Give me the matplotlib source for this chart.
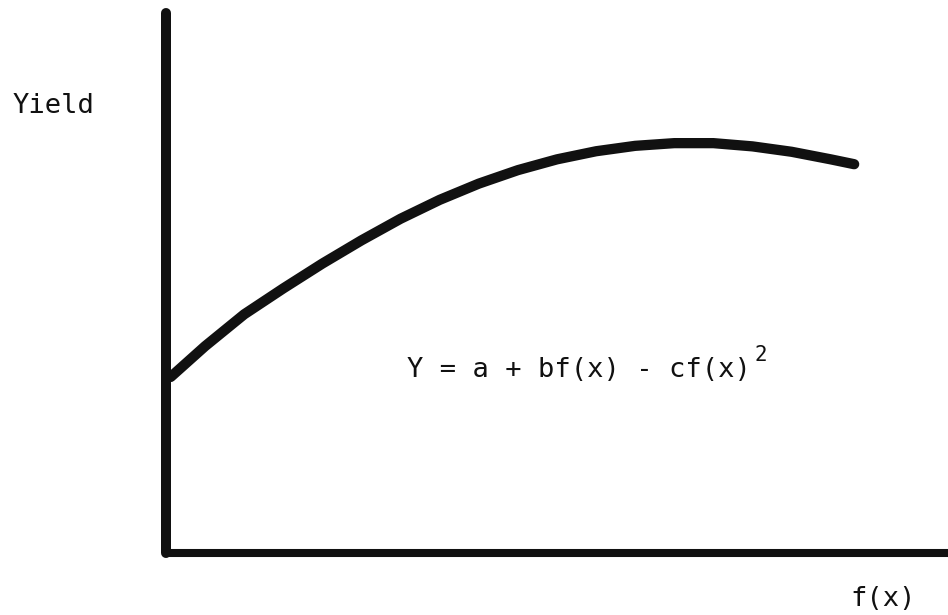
import matplotlib
matplotlib.use("Agg")
import matplotlib.pyplot as plt

# Conceptual yield curve (units: % of axis range)
fx_values = [0.6, 5, 10, 15, 20, 25, 30, 35, 40, 45, 50, 55, 60, 65, 70, 75, 80, 85, 88]
yield_values = [32.6, 38.3, 44.2, 49.0, 53.6, 57.9, 61.9, 65.4, 68.4, 70.9, 72.9, 74.4,
                75.4, 75.9, 75.9, 75.3, 74.3, 72.9, 72.0]

y_label = "Yield"
x_label = "f(x)"
equation = "Y = a + bf(x) - cf(x)"
exponent = "2"

W, H = 948, 615
fig = plt.figure(figsize=(W / 100, H / 100), dpi=100)
fig.patch.set_facecolor("white")

left_px, bottom_px, top_px = 166, 553, 13
ax = fig.add_axes([left_px / W, 1 - bottom_px / H, (W - left_px) / W, (bottom_px - top_px) / H])
ax.set_xlim(0, 100)
ax.set_ylim(0, 100)
ax.set_facecolor("none")
ink = "#111111"

for side in ("top", "right"):
    ax.spines[side].set_visible(False)
ax.spines["left"].set_linewidth(7.2)
ax.spines["left"].set_color(ink)
ax.spines["left"].set_capstyle("round")
ax.spines["bottom"].set_linewidth(5.8)
ax.spines["bottom"].set_color(ink)
ax.spines["bottom"].set_capstyle("butt")
ax.set_xticks([])
ax.set_yticks([])

ax.plot(fx_values, yield_values, color=ink, lw=7.4, solid_capstyle="round",
        solid_joinstyle="round", clip_on=False)

font = "DejaVu Sans Mono"
fs = 19.5
fig.text(13 / W, 1 - 113 / H, y_label, family=font, fontsize=fs, color=ink,
         ha="left", va="baseline")
fig.text(407 / W, 1 - 377 / H, equation, family=font, fontsize=fs, color=ink,
         ha="left", va="baseline")
fig.text(754 / W, 1 - 361 / H, exponent, family=font, fontsize=15, color=ink,
         ha="left", va="baseline")
fig.text(850 / W, 1 - 606 / H, x_label, family=font, fontsize=fs, color=ink,
         ha="left", va="baseline")

fig.savefig("out.png", dpi=100, facecolor="white")
